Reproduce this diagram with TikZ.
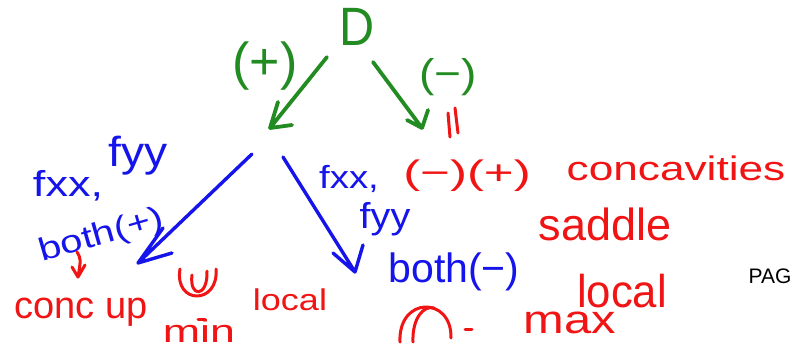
\documentclass[tikz,border=0pt]{standalone}
\usepackage{fontspec}
\setmainfont{Liberation Sans}
\usepackage{graphicx}
\newcommand\fsz[1]{\fontsize{#1}{#1}\selectfont}
\newcommand\sx[2]{\scalebox{#1}[1]{#2}}
\definecolor{pgreen}{RGB}{34,139,34}
\definecolor{pblue}{RGB}{20,20,235}
\definecolor{pred}{RGB}{240,20,20}
\tikzset{
  hw/.style={inner sep=0pt, outer sep=0pt},
  gtext/.style={hw, text=pgreen},
  btext/.style={hw, text=pblue},
  rtext/.style={hw, text=pred},
  ktext/.style={hw, text=black},
  stroke/.style={line width=3.4pt, line cap=round, line join=round},
  gstroke/.style={stroke, draw=pgreen, line width=3.8pt},
  bstroke/.style={stroke, draw=pblue},
  rstroke/.style={stroke, draw=pred, line width=3pt},
}
\begin{document}
\begin{tikzpicture}[x=1pt,y=-1pt]
\fill[white] (0,0) rectangle (793,349);
\useasboundingbox (0,0) rectangle (793,349);

% green top
\node[gtext, anchor=base, font=\fsz{54}] (D) at (357,45) {\sx{0.9}{D}};
\node[gtext, font=\fsz{52}] (gplus) at (265,66) {(+)};
\node[gtext, font=\fsz{40}] (gminus) at (448,77) {\sx{1.15}{(−)}};

\coordinate (g1s) at (327,57);
\coordinate (g1e) at (270,128);
\coordinate (g2s) at (373,62);
\coordinate (g2e) at (422,128);
\draw[gstroke] (g1s) -- (g1e) -- ++(8,-26) (g1e) -- ++(22,-3);
\draw[gstroke] (g2s) -- (g2e) -- ++(-15,-8) (g2e) -- ++(6,-18);

% red equals (vertical)
\draw[rstroke] (448,113) -- (450,137);
\draw[rstroke] (455,108) -- (458,133);

% right red texts
\node[rtext, font=\fsz{34}] (mp) at (467,176) {\sx{1.5}{(−)(+)}};
\node[rtext, anchor=base, font=\fsz{34}] (conc) at (676,180) {\sx{1.3}{concavities}};
\node[rtext, anchor=base, font=\fsz{45}] (saddle) at (605,240) {saddle};
\node[ktext, anchor=base, font=\fsz{21}] (pag) at (770,283) {PAG};
\node[rtext, anchor=base, font=\fsz{46}] (localr) at (622,307) {\sx{0.95}{local}};
\node[rtext, anchor=base, font=\fsz{40}] (max) at (570,333) {\sx{1.22}{max}};

% blue arrows
\coordinate (b1s) at (252,154);
\coordinate (b1e) at (138,263);
\coordinate (b2s) at (283,157);
\coordinate (b2e) at (355,272);
\draw[bstroke] (b1s) -- (b1e) -- ++(34,-10) (b1e) -- ++(25,-35);
\draw[bstroke] (b2s) -- (b2e) -- ++(-22,-19) (b2e) -- ++(8,-27);

% blue texts
\node[btext, anchor=base, font=\fsz{36}] (fxxl) at (68,196) {\sx{1.25}{fxx,}};
\node[btext, anchor=base, font=\fsz{42}] (fyyl) at (138,166) {\sx{1.1}{fyy}};
\node[btext, anchor=base, font=\fsz{32}, rotate=16] (bothp) at (104,244) {\sx{1.25}{both(+)}};
\node[btext, anchor=base, font=\fsz{32}] (fxxr) at (349,188) {\sx{1.2}{fxx,}};
\node[btext, anchor=base, font=\fsz{36}] (fyyr) at (385,228) {\sx{1.1}{fyy}};
\node[btext, anchor=base, font=\fsz{41}] (bothm) at (454,282) {both(−)};

% small red arrow
\coordinate (r1s) at (77,252);
\coordinate (r1e) at (78,277);
\draw[rstroke] (r1s) .. controls (81,259) .. (r1e) -- ++(-6,-10) (r1e) -- ++(7,-12);

% left bottom red
\node[rtext, anchor=base, font=\fsz{38}] (concup) at (81,318) {conc up};
\node[rtext, anchor=base, font=\fsz{30}] (locall) at (290,310) {\sx{1.2}{local}};
\node[rtext, anchor=base, font=\fsz{32}] (min) at (199,342) {\sx{1.4}{min}};
\draw[rstroke] (180,269) .. controls (174,305) and (219,305) .. (216,269);
\draw[rstroke] (192,275) .. controls (189,298) and (208,298) .. (207,271);
\draw[rstroke] (198,319) -- (205,319);

% cap shape
\draw[rstroke] (400,342) .. controls (398,296) and (452,296) .. (451,338);
\draw[rstroke] (413,342) .. controls (412,318) and (424,305) .. (434,308);
\draw[rstroke] (465,329) -- (472,329);
\end{tikzpicture}
\end{document}
